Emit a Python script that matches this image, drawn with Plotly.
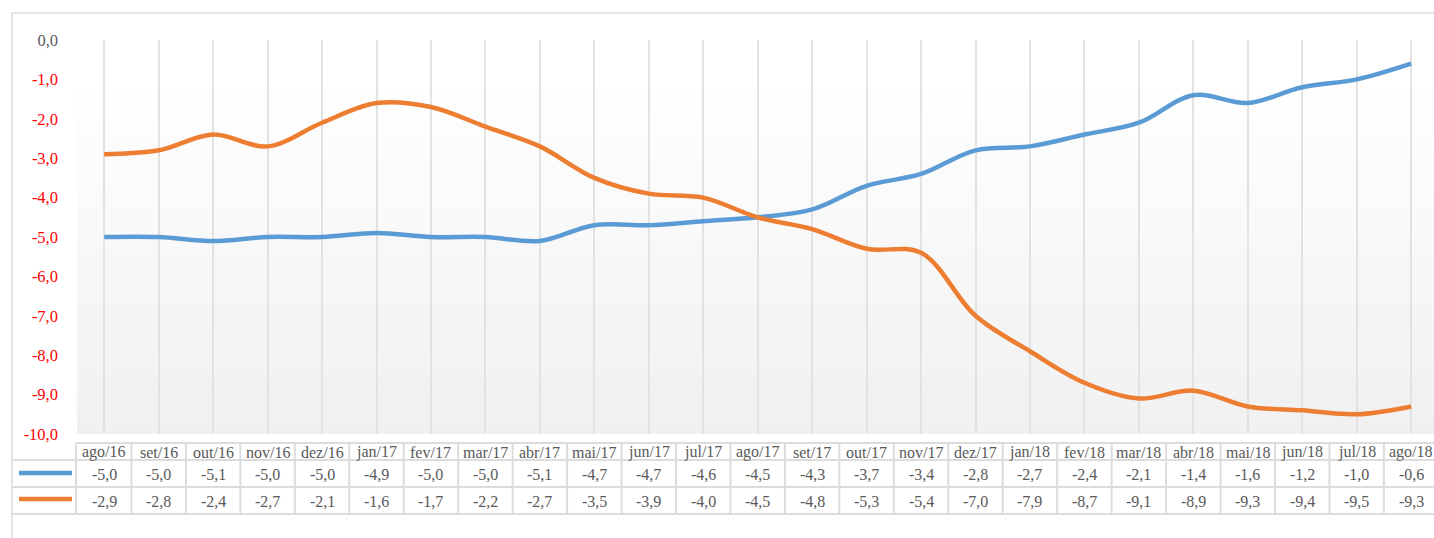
import plotly.graph_objects as go

categories = ["ago/16", "set/16", "out/16", "nov/16", "dez/16", "jan/17", "fev/17", "mar/17",
              "abr/17", "mai/17", "jun/17", "jul/17", "ago/17", "set/17", "out/17", "nov/17",
              "dez/17", "jan/18", "fev/18", "mar/18", "abr/18", "mai/18", "jun/18", "jul/18", "ago/18"]
blue_values = [-5.0, -5.0, -5.1, -5.0, -5.0, -4.9, -5.0, -5.0, -5.1, -4.7, -4.7, -4.6, -4.5,
               -4.3, -3.7, -3.4, -2.8, -2.7, -2.4, -2.1, -1.4, -1.6, -1.2, -1.0, -0.6]
orange_values = [-2.9, -2.8, -2.4, -2.7, -2.1, -1.6, -1.7, -2.2, -2.7, -3.5, -3.9, -4.0, -4.5,
                 -4.8, -5.3, -5.4, -7.0, -7.9, -8.7, -9.1, -8.9, -9.3, -9.4, -9.5, -9.3]
y_tick_values = [0, -1, -2, -3, -4, -5, -6, -7, -8, -9, -10]

BLUE = "#5b9bd5"
ORANGE = "#ed7d31"
GRID = "#dcdcdc"
VGRID = "#e2e2e2"
TEXT = "#595959"
FONT = "Liberation Serif"

W, H = 1434, 538
ML, MR, MT, MB = 77, 0, 40, 104
PH = H - MT - MB


def py(ypix):
    return (H - MB - ypix) / PH


def px(xpix):
    return (xpix - ML) / (W - ML - MR)


def fmt(v):
    return f"{v:.1f}".replace(".", ",")


fig = go.Figure()
fig.add_trace(go.Scatter(x=categories, y=blue_values, mode="lines",
                         line=dict(color=BLUE, width=4.5, shape="spline", smoothing=1.0),
                         showlegend=False, hoverinfo="skip"))
fig.add_trace(go.Scatter(x=categories, y=orange_values, mode="lines",
                         line=dict(color=ORANGE, width=4.5, shape="spline", smoothing=1.0),
                         showlegend=False, hoverinfo="skip"))

shapes = []
# gradient background of plot area
nb = 40
for k in range(nb):
    t = (k + 0.5) / nb  # 0 top -> 1 bottom
    g = int(round(255 - max(0.0, (t - 0.1) / 0.9) * 15))
    col = f"rgb({g},{g},{g})"
    shapes.append(dict(type="rect", xref="paper", yref="paper", x0=0, x1=1,
                       y0=1 - (k + 1) / nb, y1=1 - k / nb, fillcolor=col,
                       line=dict(width=0), layer="below"))

# outer border
shapes.append(dict(type="line", xref="paper", yref="paper", x0=px(12), x1=px(1434),
                   y0=py(13), y1=py(13), line=dict(color=GRID, width=1.5)))
shapes.append(dict(type="line", xref="paper", yref="paper", x0=px(12), x1=px(12),
                   y0=py(13), y1=py(540), line=dict(color=GRID, width=1.5)))

# data table grid
row_tops = [443, 460, 487, 514]
shapes.append(dict(type="line", xref="paper", yref="paper", x0=px(76), x1=px(1436),
                   y0=py(443), y1=py(443), line=dict(color=GRID, width=2)))
for yy in row_tops[1:]:
    shapes.append(dict(type="line", xref="paper", yref="paper", x0=px(12), x1=px(1436),
                       y0=py(yy), y1=py(yy), line=dict(color=GRID, width=2)))
shapes.append(dict(type="line", xref="paper", yref="paper", x0=px(76), x1=px(76),
                   y0=py(443), y1=py(514), line=dict(color=GRID, width=2)))
for i in range(1, len(categories) + 1):
    shapes.append(dict(type="line", xref="x", yref="paper", x0=i - 0.5, x1=i - 0.5,
                       y0=py(443), y1=py(514), line=dict(color=GRID, width=2)))

# legend keys in table
shapes.append(dict(type="line", xref="paper", yref="paper", x0=px(19), x1=px(72),
                   y0=py(473), y1=py(473), line=dict(color=BLUE, width=4.5)))
shapes.append(dict(type="line", xref="paper", yref="paper", x0=px(19), x1=px(72),
                   y0=py(499), y1=py(499), line=dict(color=ORANGE, width=4.5)))

annotations = []
tfont = dict(family=FONT, size=16, color=TEXT)
for i, c in enumerate(categories):
    annotations.append(dict(x=c, y=py(452), xref="x", yref="paper", text=c, showarrow=False,
                            font=tfont, yanchor="middle"))
    annotations.append(dict(x=c, y=py(474), xref="x", yref="paper", text=fmt(blue_values[i]),
                            showarrow=False, font=tfont, yanchor="middle"))
    annotations.append(dict(x=c, y=py(501), xref="x", yref="paper", text=fmt(orange_values[i]),
                            showarrow=False, font=tfont, yanchor="middle"))

tick_text = []
for v in y_tick_values:
    s = fmt(float(v))
    if v == 0:
        tick_text.append(f'<span style="color:{TEXT}">{s}</span>')
    else:
        tick_text.append(s)

fig.update_layout(
    width=W, height=H,
    margin=dict(l=ML, r=MR, t=MT, b=MB),
    paper_bgcolor="white", plot_bgcolor="rgba(0,0,0,0)",
    font=dict(family=FONT, size=16, color=TEXT),
    shapes=shapes, annotations=annotations,
    xaxis=dict(type="category", range=[-0.5, 24.42], showgrid=True, gridcolor=VGRID,
               gridwidth=1.5, showticklabels=False, zeroline=False, showline=False,
               ticks=""),
    yaxis=dict(range=[-10, 0], tickvals=y_tick_values, ticktext=tick_text,
               tickfont=dict(family=FONT, size=16.5, color="#ff0000"), showgrid=False,
               zeroline=False, showline=False, ticks="", ticklabelstandoff=18),
)

fig.write_html("out.html")
